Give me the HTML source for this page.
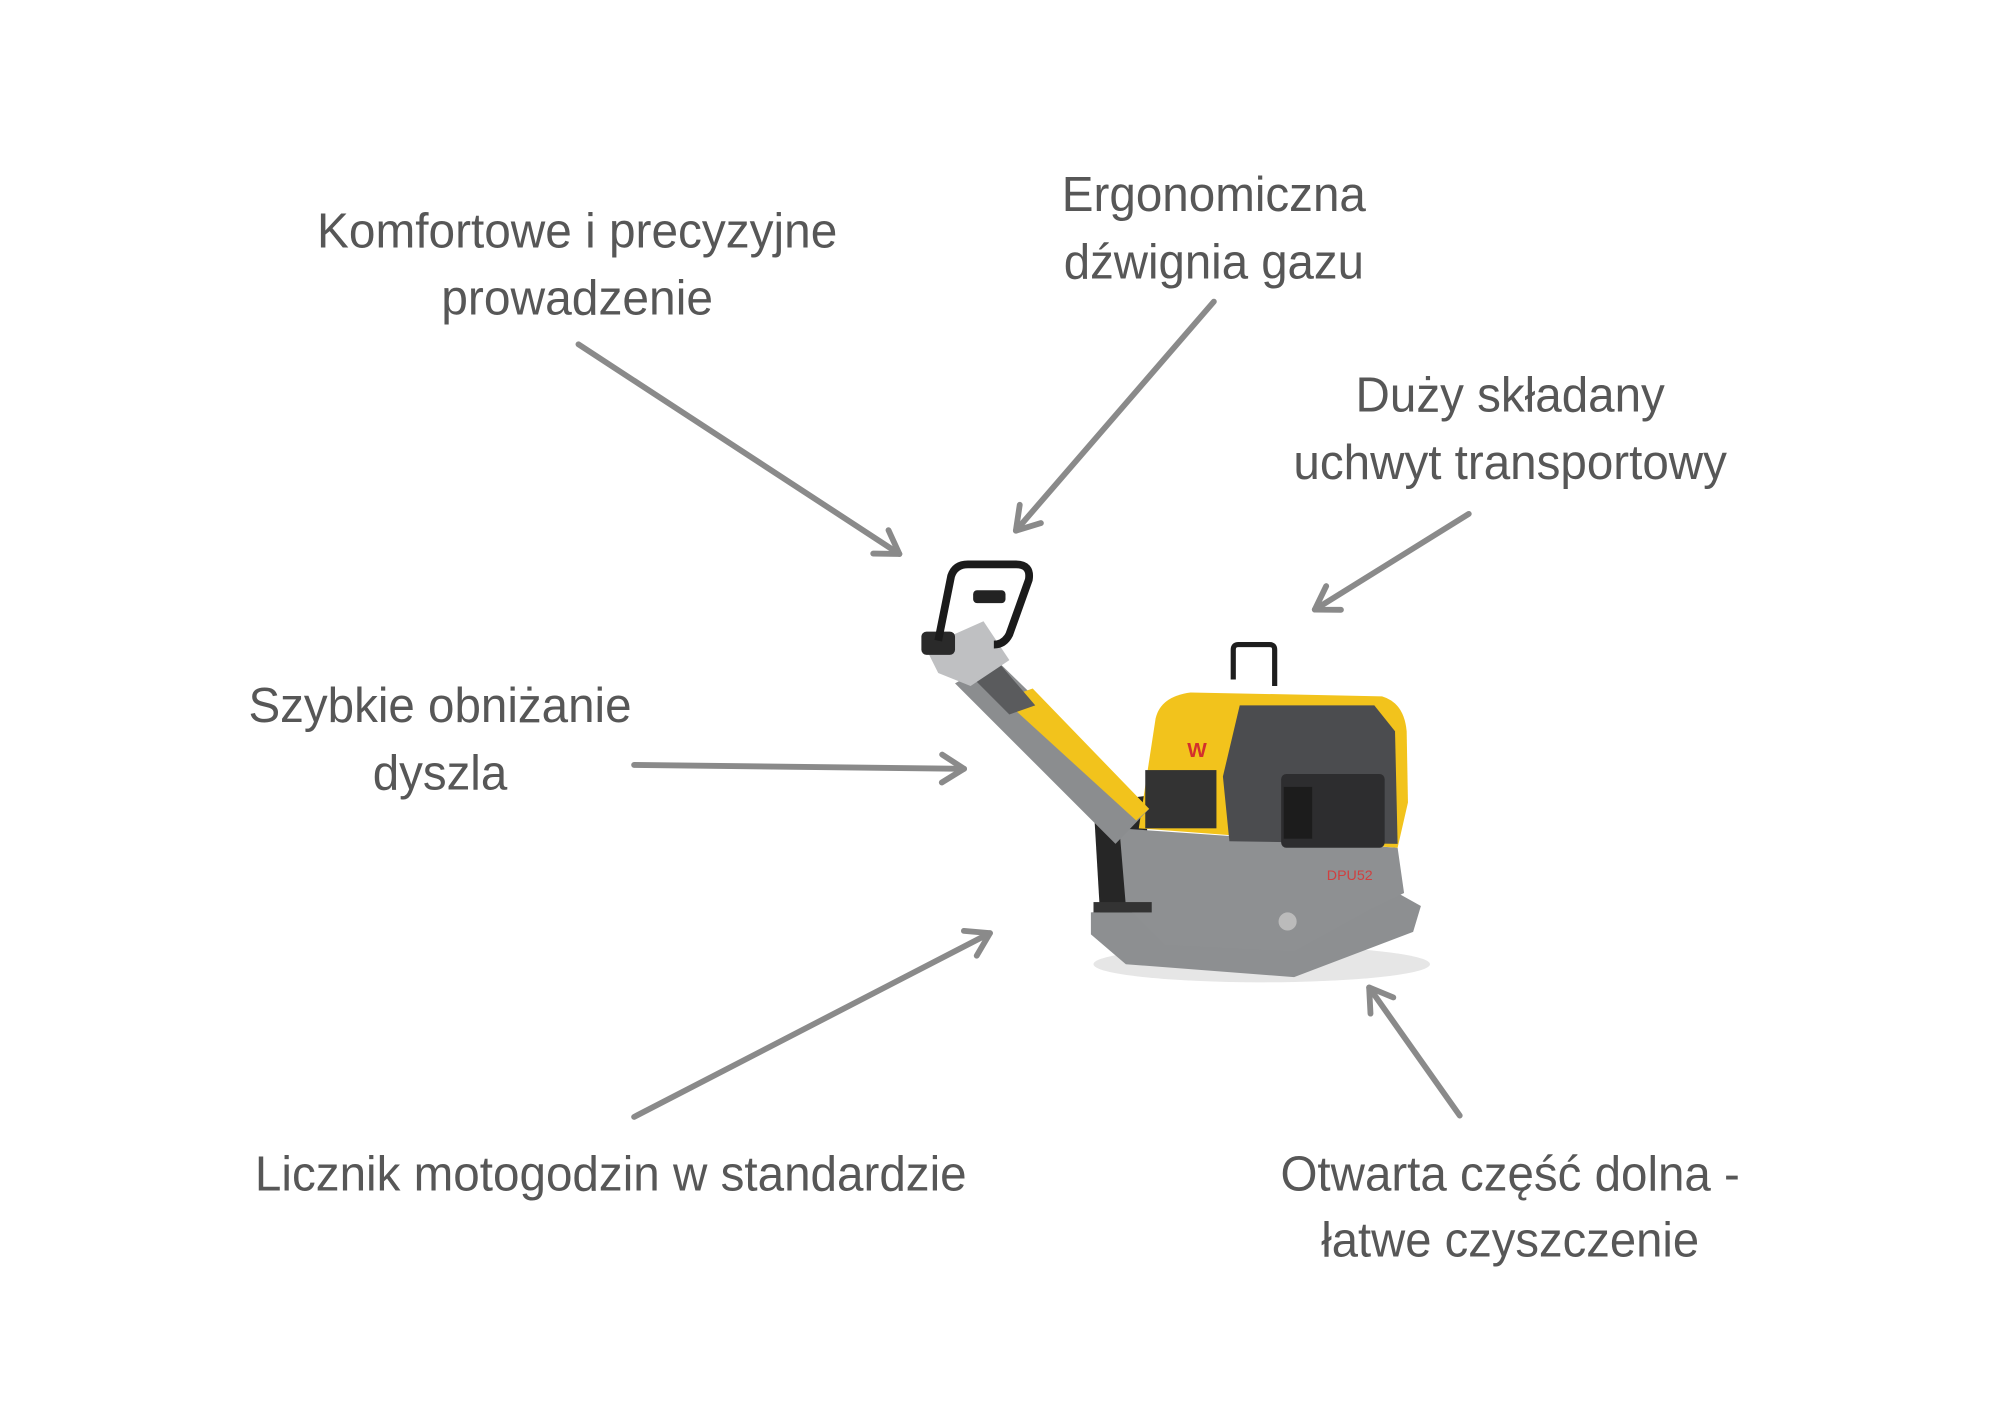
<!DOCTYPE html>
<html><head><meta charset="utf-8"><style>
html,body{margin:0;padding:0;background:#fff;}
svg{display:block;}
text{font-family:"Liberation Sans",sans-serif;font-size:38px;fill:#575757;text-anchor:middle;}
</style></head><body>
<svg width="2000" height="1414" viewBox="0 0 1545.5 1092.5" xmlns="http://www.w3.org/2000/svg">
<rect width="1545.5" height="1092.5" fill="#fff"/>
<!-- labels -->
<text x="446" y="191" textLength="402" lengthAdjust="spacingAndGlyphs">Komfortowe i precyzyjne</text>
<text x="446" y="243" textLength="210" lengthAdjust="spacingAndGlyphs">prowadzenie</text>
<text x="938" y="163" textLength="235" lengthAdjust="spacingAndGlyphs">Ergonomiczna</text>
<text x="938" y="215" textLength="232" lengthAdjust="spacingAndGlyphs">dźwignia gazu</text>
<text x="1167" y="318" textLength="239" lengthAdjust="spacingAndGlyphs">Duży składany</text>
<text x="1167" y="370" textLength="335" lengthAdjust="spacingAndGlyphs">uchwyt transportowy</text>
<text x="340" y="558" textLength="296" lengthAdjust="spacingAndGlyphs">Szybkie obniżanie</text>
<text x="340" y="610" textLength="104" lengthAdjust="spacingAndGlyphs">dyszla</text>
<text x="472" y="920" textLength="550" lengthAdjust="spacingAndGlyphs">Licznik motogodzin w standardzie</text>
<text x="1167" y="920" textLength="355" lengthAdjust="spacingAndGlyphs">Otwarta część dolna -</text>
<text x="1167" y="971" textLength="292" lengthAdjust="spacingAndGlyphs">łatwe czyszczenie</text>
<!-- arrows -->
<defs>
<marker id="ah" markerWidth="6" markerHeight="6" refX="4.6" refY="3" orient="auto" markerUnits="strokeWidth">
<path d="M0.8,0.6 L4.6,3 L0.8,5.4" fill="none" stroke="#8a8a8a" stroke-width="1" stroke-linecap="round" stroke-linejoin="round"/>
</marker>
</defs>
<g stroke="#8a8a8a" stroke-width="4.5" stroke-linecap="round" fill="none" marker-end="url(#ah)">
<line x1="447" y1="266" x2="695" y2="428"/>
<line x1="938" y1="233" x2="785" y2="410"/>
<line x1="1135" y1="397" x2="1016" y2="471"/>
<line x1="490" y1="591" x2="745" y2="594"/>
<line x1="490" y1="863" x2="765" y2="721"/>
<line x1="1128" y1="862" x2="1058" y2="763"/>
</g>
<!-- machine -->
<ellipse cx="975" cy="745" rx="130" ry="14" fill="#e6e6e6"/>
<polygon points="843,705 1080,690 1098,700 1092,720 1000,755 870,745 843,722" fill="#8d8f91"/>
<polygon points="845,620 885,615 890,705 850,705" fill="#262626"/>
<polygon points="865,640 1080,655 1085,690 1060,702 1000,735 900,730 870,700" fill="#8e9092"/>
<path d="M880,640 L893,555 Q897,538 920,535 L1068,538 Q1085,543 1087,565 L1088,620 L1080,655 Z" fill="#f2c31c"/>
<polygon points="958,545 1062,545 1078,565 1080,652 950,650 945,600" fill="#4b4c4f"/>
<rect x="990" y="598" width="80" height="57" rx="4" fill="#2d2d2f"/>
<rect x="992" y="608" width="22" height="40" fill="#1c1c1c"/>
<rect x="885" y="595" width="55" height="45" fill="#333"/>
<text x="925" y="585" style="font-size:16px;fill:#d3302c;font-weight:bold">W</text>
<text x="1043" y="680" style="font-size:11px;fill:#d04040">DPU52</text>
<path d="M953,525 L953,502 Q953,498 957,498 L981,498 Q985,498 985,502 L985,530" fill="none" stroke="#1e1e1e" stroke-width="4"/>
<polygon points="738,528 770,510 888,625 862,652" fill="#8b8d8f"/>
<polygon points="775,540 798,532 888,625 878,634" fill="#f2c31c"/>
<polygon points="748,520 770,510 800,545 780,552" fill="#5a5b5d"/>
<polygon points="715,500 760,480 780,510 750,530 725,520" fill="#bfc0c2"/>
<rect x="712" y="488" width="26" height="18" rx="4" fill="#2a2a2a"/>
<path d="M725,495 L735,445 Q738,436 748,436 L785,436 Q797,436 795,448 L780,490 Q776,498 768,498" fill="none" stroke="#1b1b1b" stroke-width="6" stroke-linejoin="round"/>
<rect x="752" y="456" width="25" height="10" rx="3" fill="#222"/>
<rect x="845" y="697" width="45" height="8" fill="#333"/>
<circle cx="995" cy="712" r="7" fill="#bbb"/>
</svg>
</body></html>
